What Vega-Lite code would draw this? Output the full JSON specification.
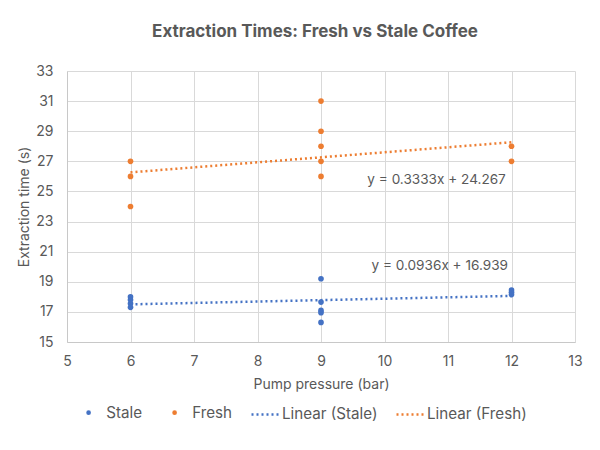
{
  "$schema": "https://vega.github.io/schema/vega-lite/v6.json",
  "width": 508,
  "height": 271,
  "autosize": "none",
  "padding": {"left": 67, "top": 71, "right": 25, "bottom": 108},
  "background": "white",
  "title": {"text": "Extraction Times: Fresh vs Stale Coffee", "fontSize": 17, "fontWeight": "bold", "color": "#595959", "font": "Inter", "anchor": "middle", "dx": -6, "offset": 23},
  "config": {
    "font": "Inter",
    "view": {"stroke": null},
    "axis": {"labelColor": "#595959", "titleColor": "#595959", "labelFontSize": 14, "titleFontSize": 14, "titleFontWeight": "normal", "gridColor": "#D9D9D9", "gridWidth": 1, "domainColor": "#C8C8C8", "ticks": false, "labelOverlap": false, "labelFlush": false},
    "legend": {"labelColor": "#595959", "labelFontSize": 15.2}
  },
  "datasets": {
    "pts": [
      {"pressure": 6, "time": 27.0, "series": "Fresh"},
      {"pressure": 6, "time": 26.0, "series": "Fresh"},
      {"pressure": 6, "time": 24.0, "series": "Fresh"},
      {"pressure": 9, "time": 31.0, "series": "Fresh"},
      {"pressure": 9, "time": 29.0, "series": "Fresh"},
      {"pressure": 9, "time": 28.0, "series": "Fresh"},
      {"pressure": 9, "time": 27.0, "series": "Fresh"},
      {"pressure": 9, "time": 26.0, "series": "Fresh"},
      {"pressure": 12, "time": 28.0, "series": "Fresh"},
      {"pressure": 12, "time": 27.0, "series": "Fresh"},
      {"pressure": 6, "time": 18.0, "series": "Stale"},
      {"pressure": 6, "time": 17.8, "series": "Stale"},
      {"pressure": 6, "time": 17.55, "series": "Stale"},
      {"pressure": 6, "time": 17.3, "series": "Stale"},
      {"pressure": 9, "time": 19.2, "series": "Stale"},
      {"pressure": 9, "time": 17.65, "series": "Stale"},
      {"pressure": 9, "time": 17.1, "series": "Stale"},
      {"pressure": 9, "time": 16.95, "series": "Stale"},
      {"pressure": 9, "time": 16.3, "series": "Stale"},
      {"pressure": 12, "time": 18.45, "series": "Stale"},
      {"pressure": 12, "time": 18.3, "series": "Stale"},
      {"pressure": 12, "time": 18.15, "series": "Stale"}
    ],
    "trend": [
      {"pressure": 6, "time": 17.5006, "trend": "Linear (Stale)"},
      {"pressure": 12, "time": 18.0622, "trend": "Linear (Stale)"},
      {"pressure": 6, "time": 26.267, "trend": "Linear (Fresh)"},
      {"pressure": 12, "time": 28.267, "trend": "Linear (Fresh)"}
    ],
    "labels": [
      {"pressure": 10.82, "time": 25.74, "label": "y = 0.3333x + 24.267"},
      {"pressure": 10.87, "time": 20.08, "label": "y = 0.0936x + 16.939"}
    ]
  },
  "layer": [
    {
      "data": {"name": "pts"},
      "mark": {"type": "point", "filled": true, "size": 32, "opacity": 1},
      "encoding": {
        "x": {"field": "pressure", "type": "quantitative", "scale": {"domain": [5, 13], "nice": false, "zero": false}, "axis": {"values": [5, 6, 7, 8, 9, 10, 11, 12, 13], "tickCount": 20, "format": "d", "title": "Pump pressure (bar)", "labelPadding": 12, "titlePadding": 9}},
        "y": {"field": "time", "type": "quantitative", "scale": {"domain": [15, 33], "nice": false, "zero": false}, "axis": {"values": [15, 17, 19, 21, 23, 25, 27, 29, 31, 33], "tickCount": 20, "format": "d", "title": "Extraction time (s)", "labelPadding": 14, "titlePadding": 4}},
        "color": {"field": "series", "type": "nominal", "scale": {"domain": ["Stale", "Fresh"], "range": ["#4472C4", "#ED7D31"]}, "legend": {"title": null, "orient": "none", "legendX": 14, "legendY": 334, "direction": "horizontal", "symbolType": "circle", "symbolSize": 22, "labelOffset": 10, "columnPadding": 24}}
      }
    },
    {
      "data": {"name": "trend"},
      "mark": {"type": "line", "strokeDash": [2, 3], "strokeWidth": 2.5},
      "encoding": {
        "x": {"field": "pressure", "type": "quantitative"},
        "y": {"field": "time", "type": "quantitative"},
        "stroke": {"field": "trend", "type": "nominal", "scale": {"domain": ["Linear (Stale)", "Linear (Fresh)"], "range": ["#4472C4", "#ED7D31"]}, "legend": {"title": null, "orient": "none", "legendX": 183, "legendY": 327, "direction": "horizontal", "symbolType": "stroke", "symbolSize": 841, "symbolStrokeWidth": 2.5, "symbolDash": [2, 3], "labelOffset": 0, "columnPadding": 13}}
      }
    },
    {
      "data": {"name": "labels"},
      "mark": {"type": "text", "fontSize": 13.6, "color": "#595959", "align": "center", "baseline": "middle"},
      "encoding": {
        "x": {"field": "pressure", "type": "quantitative"},
        "y": {"field": "time", "type": "quantitative"},
        "text": {"field": "label"}
      }
    }
  ]
}
